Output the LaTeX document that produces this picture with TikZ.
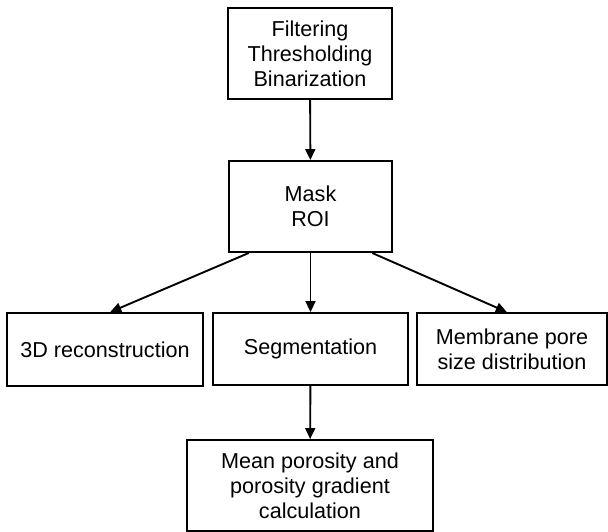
\documentclass[tikz,border=0pt]{standalone}
\usepackage{fontspec}
\setmainfont{Liberation Sans}
\usetikzlibrary{arrows.meta}
\tikzset{
  stage/.style={draw, line width=1.9pt, align=center, inner sep=0pt,
    font=\fontsize{21.6}{25}\selectfont},
  flow/.style={line width=1.9pt, -{Triangle[length=11pt,width=10pt]}}
}

\begin{document}
\begin{tikzpicture}[x=1pt,y=-1pt]
  \useasboundingbox (0,0) rectangle (608,532);
  \path
  (310,53.5) node[stage, minimum width=164pt, minimum height=91pt] (prep) {Filtering\\Thresholding\\Binarization}
  (310.5,206.5) node[stage, minimum width=163pt, minimum height=91pt] (mask) {Mask\\ROI}
  (105,349.5) node[stage, minimum width=196pt, minimum height=73pt] (recon) {3D reconstruction}
  (310.5,349) node[stage, minimum width=195pt, minimum height=72pt] (segm) {Segmentation}
  (512,349) node[stage, minimum width=190pt, minimum height=72pt] (pores) {Membrane pore\\size distribution}
  (310,485.5) node[stage, minimum width=246pt, minimum height=91pt] (poros) {Mean porosity and\\porosity gradient\\calculation}
  ;
  \draw[flow] (prep) -- (mask);
  \draw[flow] (mask.-143) -- (recon.82);
  \draw[flow] (mask) -- (segm);
  \draw[flow] (mask.-37) -- (pores.98);
  \draw[flow] (segm) -- (poros);
\end{tikzpicture}
\end{document}
